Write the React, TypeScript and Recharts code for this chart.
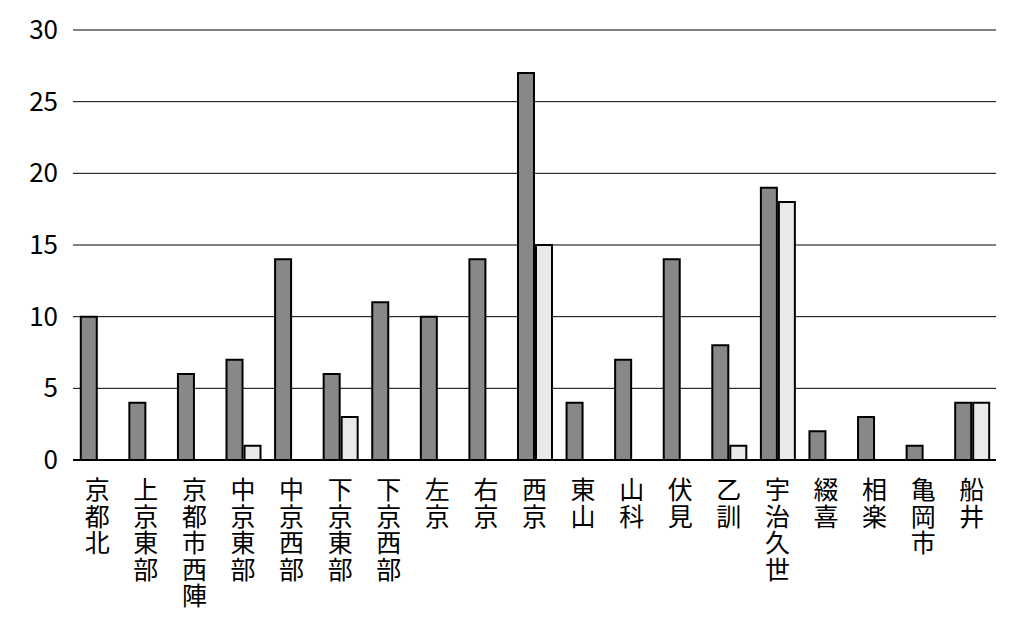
import { BarChart, Bar, XAxis, YAxis, CartesianGrid } from 'recharts';

const CATEGORIES = [
  '京都北', '上京東部', '京都市西陣', '中京東部', '中京西部', '下京東部', '下京西部',
  '左京', '右京', '西京', '東山', '山科', '伏見', '乙訓', '宇治久世', '綴喜', '相楽', '亀岡市', '船井',
];
const SERIES_A = [10, 4, 6, 7, 14, 6, 11, 10, 14, 27, 4, 7, 14, 8, 19, 2, 3, 1, 4];
const SERIES_B = [0, 0, 0, 1, 0, 3, 0, 0, 0, 15, 0, 0, 0, 1, 18, 0, 0, 0, 4];
const Y_TICKS = [0, 5, 10, 15, 20, 25, 30];

const FONT = '"Noto Sans CJK JP", "Noto Sans", sans-serif';

const data = CATEGORIES.map((name, i) => ({ name, a: SERIES_A[i], b: SERIES_B[i] }));

function VerticalTick(props: any) {
  const { x, y, payload } = props;
  return (
    <text
      x={x}
      y={y + 15}
      fontSize={25}
      fontFamily={FONT}
      fill="#000"
      style={{ writingMode: 'vertical-rl', letterSpacing: 1.5 }}
    >
      {payload.value}
    </text>
  );
}

function YTick(props: any) {
  const { y, payload } = props;
  return (
    <text x={58} y={y} dy={9} textAnchor="end" fontSize={26} fontFamily={FONT} fill="#000">
      {payload.value}
    </text>
  );
}

export default function App() {
  return (
    <div style={{ position: 'absolute', left: 0, top: 0, width: 1034, height: 618, background: '#fff' }}>
      <BarChart
        width={1034}
        height={618}
        data={data}
        margin={{ top: 30, right: 38, bottom: 0, left: 0 }}
        barCategoryGap="16%"
        barGap={2}
      >
        <CartesianGrid vertical={false} stroke="#000" strokeWidth={1} />
        <XAxis
          dataKey="name"
          interval={0}
          tickLine={false}
          tickSize={0}
          axisLine={{ stroke: '#000', strokeWidth: 2 }}
          tick={<VerticalTick />}
          height={158}
        />
        <YAxis
          domain={[0, 30]}
          ticks={Y_TICKS}
          width={73}
          axisLine={false}
          tickLine={false}
          tick={<YTick />}
        />
        <Bar dataKey="a" fill="#888888" stroke="#000" strokeWidth={2} isAnimationActive={false} />
        <Bar dataKey="b" fill="#e9e9e9" stroke="#000" strokeWidth={2} isAnimationActive={false} />
      </BarChart>
    </div>
  );
}
